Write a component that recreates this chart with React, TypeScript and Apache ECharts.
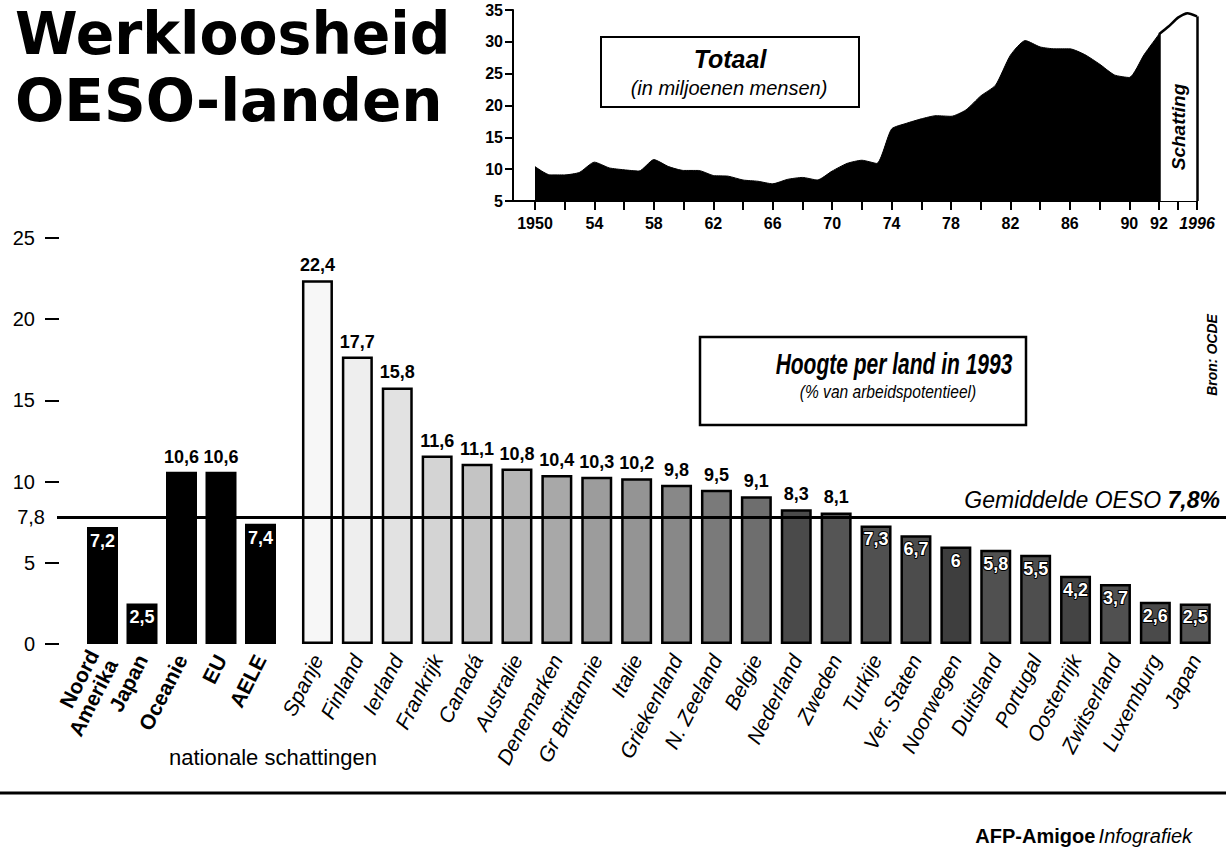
import React, { useEffect, useRef } from 'react';
import * as echarts from 'echarts';

// ---------- Data: total unemployment OECD (millions) ----------
const HIST_YEARS = [
  1950, 1951, 1952, 1953, 1954, 1955, 1956, 1957, 1958, 1959,
  1960, 1961, 1962, 1963, 1964, 1965, 1966, 1967, 1968, 1969,
  1970, 1971, 1972, 1973, 1974, 1975, 1976, 1977, 1978, 1979,
  1980, 1981, 1982, 1983, 1984, 1985, 1986, 1987, 1988, 1989,
  1990, 1991, 1992,
];
const HIST_VALUES = [
  10.4, 9.1, 9.1, 9.5, 11.1, 10.2, 9.9, 9.7, 11.5, 10.4,
  9.8, 9.8, 9.0, 8.9, 8.3, 8.1, 7.7, 8.4, 8.7, 8.3,
  9.7, 10.9, 11.4, 10.9, 16.3, 17.2, 17.9, 18.4, 18.3, 19.3,
  21.5, 23.2, 27.9, 30.2, 29.2, 28.9, 28.9, 28.0, 26.5, 24.8,
  24.4, 28.0, 31.2,
];
const EST_YEARS = [1992, 1993, 1994, 1995, 1996];
const EST_VALUES = [31.2, 32.4, 33.8, 34.5, 34.0];
const YEAR_LABELS = [1950, 1954, 1958, 1962, 1966, 1970, 1974, 1978, 1982, 1986, 1990, 1992];
const AREA_MIN = 5;
const AREA_MAX = 35;

// ---------- Data: unemployment per country 1993 (%) ----------
const GROUPS = ['Noord\nAmerika', 'Japan', 'Oceanie', 'EU', 'AELE'];
const GROUP_VALUES = [7.2, 2.5, 10.6, 10.6, 7.4];
const COUNTRIES = [
  'Spanje', 'Finland', 'Ierland', 'Frankrijk', 'Canadá', 'Australie', 'Denemarken',
  'Gr Brittannie', 'Italie', 'Griekenland', 'N. Zeeland', 'Belgie', 'Nederland', 'Zweden',
  'Turkije', 'Ver. Staten', 'Noorwegen', 'Duitsland', 'Portugal', 'Oostenrijk',
  'Zwitserland', 'Luxemburg', 'Japan',
];
const COUNTRY_VALUES = [
  22.4, 17.7, 15.8, 11.6, 11.1, 10.8, 10.4,
  10.3, 10.2, 9.8, 9.5, 9.1, 8.3, 8.1,
  7.3, 6.7, 6, 5.8, 5.5, 4.2,
  3.7, 2.6, 2.5,
];
const OESO_AVG = 7.8;
const BAR_MAX = 25;

// styles (shading of the country bars, light to dark)
const COUNTRY_SHADES = [
  '#f7f7f7', '#eeeeee', '#e2e2e2', '#d4d4d4', '#c4c4c4', '#b6b6b6', '#a8a8a8',
  '#9c9c9c', '#949494', '#888888', '#7a7a7a', '#6e6e6e', '#4a4a4a', '#555555',
  '#505050', '#4c4c4c', '#3e3e3e', '#505050', '#4e4e4e', '#444444',
  '#505050', '#4a4a4a', '#555555',
];

const fmt = (v: number) => String(v).replace('.', ',');
const SANS = '"Liberation Sans", Arial, sans-serif';

function barLabel(v: number, outlined: boolean) {
  if (v < OESO_AVG) {
    return {
      show: true,
      position: 'insideTop',
      distance: 5,
      color: '#fff',
      fontFamily: SANS,
      fontWeight: 'bold',
      fontSize: 18,
      textBorderColor: outlined ? '#000' : 'transparent',
      textBorderWidth: outlined ? 2 : 0,
      formatter: (p: any) => fmt(p.value),
    };
  }
  return {
    show: true,
    position: 'top',
    distance: 6,
    color: '#000',
    fontFamily: SANS,
    fontWeight: 'bold',
    fontSize: 18,
    formatter: (p: any) => fmt(p.value),
  };
}

function buildOption(): any {
  const histTicks = HIST_YEARS.filter((y) => y % 2 === 0);
  const estTicks = EST_YEARS.filter((y) => y % 2 === 0 && y !== EST_YEARS[0]);
  const lastEst = EST_YEARS.length - 1;

  return {
    animation: false,
    backgroundColor: '#fff',
    grid: [
      { left: 513, top: 10, width: 646, height: 191 },
      { left: 1159, top: 10, width: 38, height: 191 },
      { left: 82.75, top: 238, width: 197.5, height: 406 },
      { left: 297.5, top: 238, width: 917.7, height: 406 },
      { left: 57, top: 238, width: 1169, height: 406 },
    ],
    xAxis: [
      {
        gridIndex: 0,
        type: 'value',
        min: 1948.52,
        max: EST_YEARS[0],
        axisLine: { show: true, lineStyle: { color: '#000', width: 2 } },
        axisTick: { show: true, inside: false, length: 9, customValues: histTicks, lineStyle: { color: '#000', width: 2 } },
        axisLabel: {
          customValues: YEAR_LABELS,
          margin: 14,
          color: '#000',
          fontFamily: SANS,
          fontWeight: 'bold',
          fontSize: 16,
          formatter: (v: number) => (v === YEAR_LABELS[0] ? String(v) : String(v).slice(2)),
        },
        splitLine: { show: false },
      },
      {
        gridIndex: 1,
        type: 'value',
        min: EST_YEARS[0],
        max: EST_YEARS[lastEst],
        axisLine: { show: true, lineStyle: { color: '#000', width: 2 } },
        axisTick: { show: true, inside: false, length: 9, customValues: estTicks, lineStyle: { color: '#000', width: 2 } },
        axisLabel: {
          customValues: [EST_YEARS[lastEst]],
          margin: 14,
          color: '#000',
          fontFamily: SANS,
          fontWeight: 'bold',
          fontStyle: 'italic',
          fontSize: 16,
          formatter: (v: number) => String(v),
        },
        splitLine: { show: false },
      },
      {
        gridIndex: 2,
        type: 'category',
        data: GROUPS,
        axisLine: { show: false },
        axisTick: { show: false },
        axisLabel: {
          interval: 0,
          rotate: 63,
          margin: 12,
          color: '#000',
          fontFamily: SANS,
          fontWeight: 'bold',
          fontSize: 21,
          lineHeight: 21,
        },
      },
      {
        gridIndex: 3,
        type: 'category',
        data: COUNTRIES,
        axisLine: { show: false },
        axisTick: { show: false },
        axisLabel: {
          interval: 0,
          rotate: 63,
          margin: 12,
          color: '#000',
          fontFamily: SANS,
          fontStyle: 'italic',
          fontSize: 21,
        },
      },
      { gridIndex: 4, type: 'value', min: 0, max: 1, show: false },
    ],
    yAxis: [
      {
        gridIndex: 0,
        type: 'value',
        min: AREA_MIN,
        max: AREA_MAX,
        interval: 5,
        axisLine: { show: true, lineStyle: { color: '#000', width: 2 } },
        axisTick: { show: true, inside: false, length: 8, lineStyle: { color: '#000', width: 2 } },
        axisLabel: { margin: 10, color: '#000', fontFamily: SANS, fontWeight: 'bold', fontSize: 16 },
        splitLine: { show: false },
      },
      { gridIndex: 1, type: 'value', min: AREA_MIN, max: AREA_MAX, show: false },
      {
        gridIndex: 2,
        type: 'value',
        min: 0,
        max: BAR_MAX,
        interval: 5,
        offset: 23.75,
        axisLine: { show: false },
        axisTick: { show: true, inside: false, length: 14, lineStyle: { color: '#000', width: 2 } },
        axisLabel: { margin: 24, color: '#000', fontFamily: SANS, fontSize: 20 },
        splitLine: { show: false },
      },
      { gridIndex: 3, type: 'value', min: 0, max: BAR_MAX, show: false },
      { gridIndex: 4, type: 'value', min: 0, max: BAR_MAX, show: false },
    ],
    series: [
      {
        type: 'line',
        xAxisIndex: 0,
        yAxisIndex: 0,
        data: HIST_YEARS.map((y, i) => [y, HIST_VALUES[i]]),
        symbol: 'none',
        smooth: 0.2,
        lineStyle: { color: '#000', width: 1 },
        areaStyle: { color: '#000', opacity: 1 },
        z: 2,
      },
      {
        type: 'line',
        xAxisIndex: 1,
        yAxisIndex: 1,
        data: EST_YEARS.map((y, i) => [y, EST_VALUES[i]]),
        symbol: 'none',
        smooth: 0.2,
        lineStyle: { color: '#000', width: 2.5 },
        areaStyle: { color: '#fff', opacity: 1 },
        z: 2,
        markLine: {
          symbol: 'none',
          silent: true,
          label: { show: false },
          lineStyle: { color: '#000', width: 2.5, type: 'solid' },
          data: [
            [{ coord: [EST_YEARS[0], AREA_MIN] }, { coord: [EST_YEARS[0], EST_VALUES[0]] }],
            [{ coord: [EST_YEARS[lastEst], AREA_MIN] }, { coord: [EST_YEARS[lastEst], EST_VALUES[lastEst]] }],
          ],
        },
      },
      {
        type: 'line',
        xAxisIndex: 4,
        yAxisIndex: 4,
        data: [],
        symbol: 'none',
        z: 1,
        markLine: {
          symbol: 'none',
          silent: true,
          lineStyle: { color: '#000', width: 3, type: 'solid' },
          data: [
            {
              yAxis: OESO_AVG,
              label: {
                show: true,
                position: 'start',
                distance: 12,
                formatter: fmt(OESO_AVG),
                color: '#000',
                fontFamily: SANS,
                fontSize: 20,
              },
            },
            {
              yAxis: OESO_AVG,
              label: {
                show: true,
                position: 'insideEndTop',
                distance: 6,
                formatter: '{a|Gemiddelde OESO }{b|' + fmt(OESO_AVG) + '%}',
                rich: {
                  a: { fontFamily: SANS, fontStyle: 'italic', fontSize: 23, color: '#000' },
                  b: { fontFamily: SANS, fontStyle: 'italic', fontWeight: 'bold', fontSize: 23, color: '#000' },
                },
              },
            },
          ],
        },
      },
      {
        type: 'bar',
        xAxisIndex: 2,
        yAxisIndex: 2,
        barWidth: 31,
        z: 3,
        data: GROUP_VALUES.map((v) => ({
          value: v,
          itemStyle: { color: '#000' },
          label: barLabel(v, false),
        })),
      },
      {
        type: 'bar',
        xAxisIndex: 3,
        yAxisIndex: 3,
        barWidth: 31,
        z: 3,
        data: COUNTRY_VALUES.map((v, i) => ({
          value: v,
          itemStyle: { color: COUNTRY_SHADES[i], borderColor: '#000', borderWidth: 2.5 },
          label: barLabel(v, true),
        })),
      },
    ],
    graphic: [
      {
        type: 'text',
        x: 15,
        y: 34.5,
        scaleX: 0.98,
        style: {
          text: 'Werkloosheid',
          font: 'bold 58px "DejaVu Sans", sans-serif',
          fill: '#000',
          align: 'left',
          verticalAlign: 'middle',
        },
      },
      {
        type: 'text',
        x: 15,
        y: 100.5,
        scaleX: 1.0,
        style: {
          text: 'OESO-landen',
          font: 'bold 58px "DejaVu Sans", sans-serif',
          fill: '#000',
          align: 'left',
          verticalAlign: 'middle',
        },
      },
      {
        type: 'rect',
        shape: { x: 601, y: 37, width: 258, height: 70 },
        style: { fill: '#fff', stroke: '#000', lineWidth: 2 },
        z: 10,
      },
      {
        type: 'text',
        x: 730,
        y: 59,
        z: 11,
        style: {
          text: 'Totaal',
          font: 'italic bold 25px "Liberation Sans", Arial, sans-serif',
          fill: '#000',
          align: 'center',
          verticalAlign: 'middle',
        },
      },
      {
        type: 'text',
        x: 729,
        y: 88,
        z: 11,
        style: {
          text: '(in miljoenen mensen)',
          font: 'italic 20px "Liberation Sans", Arial, sans-serif',
          fill: '#000',
          align: 'center',
          verticalAlign: 'middle',
        },
      },
      {
        type: 'text',
        x: 1178,
        y: 127,
        rotation: Math.PI / 2,
        z: 11,
        style: {
          text: 'Schatting',
          font: 'italic bold 19px "Liberation Sans", Arial, sans-serif',
          fill: '#000',
          align: 'center',
          verticalAlign: 'middle',
        },
      },
      {
        type: 'rect',
        shape: { x: 700, y: 337, width: 326, height: 88 },
        style: { fill: '#fff', stroke: '#000', lineWidth: 2.5 },
        z: 10,
      },
      {
        type: 'text',
        x: 894,
        y: 364,
        scaleX: 0.7,
        z: 11,
        style: {
          text: 'Hoogte per land in 1993',
          font: 'italic bold 30px "Liberation Sans", Arial, sans-serif',
          fill: '#000',
          align: 'center',
          verticalAlign: 'middle',
        },
      },
      {
        type: 'text',
        x: 888,
        y: 391,
        scaleX: 0.82,
        z: 11,
        style: {
          text: '(% van arbeidspotentieel)',
          font: 'italic 19px "Liberation Sans", Arial, sans-serif',
          fill: '#000',
          align: 'center',
          verticalAlign: 'middle',
        },
      },
      {
        type: 'text',
        x: 1212,
        y: 355,
        rotation: Math.PI / 2,
        style: {
          text: 'Bron: OCDE',
          font: 'italic bold 14px "Liberation Sans", Arial, sans-serif',
          fill: '#000',
          align: 'center',
          verticalAlign: 'middle',
        },
      },
      {
        type: 'text',
        x: 273,
        y: 757,
        style: {
          text: 'nationale schattingen',
          font: '22px "Liberation Sans", Arial, sans-serif',
          fill: '#000',
          align: 'center',
          verticalAlign: 'middle',
        },
      },
      {
        type: 'line',
        shape: { x1: 0, y1: 793, x2: 1226, y2: 793 },
        style: { stroke: '#000', lineWidth: 3 },
      },
      {
        type: 'text',
        x: 1192,
        y: 836,
        style: {
          text: '{a|AFP-Amigoe} {b|Infografiek}',
          align: 'right',
          verticalAlign: 'middle',
          rich: {
            a: { fontFamily: SANS, fontWeight: 'bold', fontSize: 20, fill: '#000', color: '#000' },
            b: { fontFamily: SANS, fontStyle: 'italic', fontSize: 20, fill: '#000', color: '#000' },
          },
        },
      },
    ],
  };
}

export default function App() {
  const ref = useRef<HTMLDivElement>(null);
  useEffect(() => {
    document.body.style.margin = '0';
    const chart = echarts.init(ref.current as HTMLDivElement, null, { renderer: 'svg' });
    chart.setOption(buildOption());
    return () => chart.dispose();
  }, []);
  return <div ref={ref} style={{ width: 1226, height: 849, background: '#fff' }} />;
}
